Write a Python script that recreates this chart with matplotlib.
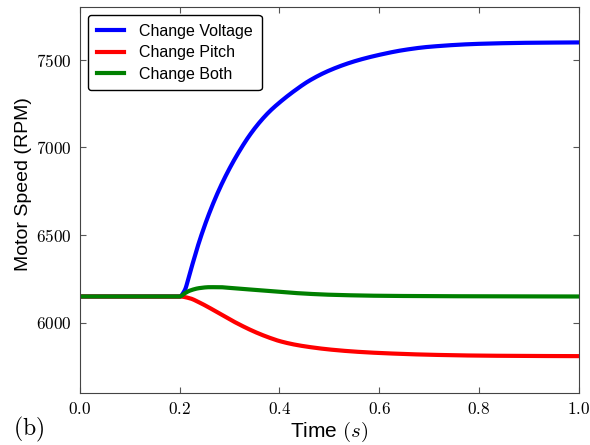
import numpy as np
import matplotlib
matplotlib.use('Agg')
import matplotlib.pyplot as plt
from matplotlib.ticker import FuncFormatter

plt.rcParams['mathtext.fontset'] = 'cm'
plt.rcParams['font.family'] = ['Liberation Sans', 'DejaVu Sans']

# time (s) and motor speed (RPM)
t_voltage = [0.0, 0.20, 0.21, 0.22, 0.24, 0.26, 0.28, 0.30, 0.32, 0.34, 0.36, 0.38,
             0.40, 0.43, 0.46, 0.50, 0.55, 0.60, 0.65, 0.70, 0.80, 0.90, 1.00]
rpm_voltage = [6150, 6150, 6185, 6280, 6470, 6630, 6765, 6880, 6980, 7068, 7142, 7204,
               7255, 7322, 7380, 7438, 7490, 7527, 7555, 7573, 7590, 7596, 7598]

t_pitch = [0.0, 0.20, 0.22, 0.24, 0.26, 0.28, 0.30, 0.32, 0.34, 0.36, 0.38, 0.40,
           0.43, 0.46, 0.50, 0.55, 0.60, 0.70, 0.80, 0.90, 1.00]
rpm_pitch = [6150, 6150, 6140, 6115, 6085, 6052, 6020, 5990, 5962, 5937, 5915, 5896,
             5876, 5862, 5848, 5836, 5828, 5818, 5813, 5811, 5810]

t_both = [0.0, 0.20, 0.21, 0.22, 0.24, 0.26, 0.28, 0.30, 0.34, 0.38, 0.42, 0.46,
          0.50, 0.60, 0.70, 0.80, 1.00]
rpm_both = [6150, 6150, 6168, 6183, 6198, 6203, 6203, 6199, 6190, 6181, 6172, 6165,
            6160, 6154, 6152, 6151, 6150]


def pchip(x, y, n=600):
    # Fritsch-Carlson monotone cubic through the read points
    x = np.asarray(x, float)
    y = np.asarray(y, float)
    h = np.diff(x)
    d = np.diff(y) / h
    m = np.zeros_like(y)
    for k in range(1, len(y) - 1):
        if d[k - 1] * d[k] > 0:
            w1 = 2 * h[k] + h[k - 1]
            w2 = h[k] + 2 * h[k - 1]
            m[k] = (w1 + w2) / (w1 / d[k - 1] + w2 / d[k])
    m[0] = 0.0
    m[-1] = d[-1]
    xs = np.linspace(x[0], x[-1], n)
    idx = np.clip(np.searchsorted(x, xs) - 1, 0, len(h) - 1)
    s = (xs - x[idx]) / h[idx]
    h00 = 2 * s**3 - 3 * s**2 + 1
    h10 = s**3 - 2 * s**2 + s
    h01 = -2 * s**3 + 3 * s**2
    h11 = s**3 - s**2
    ys = h00 * y[idx] + h10 * h[idx] * m[idx] + h01 * y[idx + 1] + h11 * h[idx] * m[idx + 1]
    return xs, ys


fig = plt.figure(figsize=(5.9, 4.45), dpi=100)
ax = fig.add_axes([0.1356, 0.1169, 0.845, 0.8674])

ax.plot(*pchip(t_voltage, rpm_voltage), color='blue', lw=3, label='Change Voltage')
ax.plot(*pchip(t_pitch, rpm_pitch), color='red', lw=3, label='Change Pitch')
ax.plot(*pchip(t_both, rpm_both), color='green', lw=3, label='Change Both')

ax.set_xlim(0, 1.0)
ax.set_ylim(5600, 7800)
ax.set_xticks([0.0, 0.2, 0.4, 0.6, 0.8, 1.0])
ax.set_yticks([6000, 6500, 7000, 7500])
ax.xaxis.set_major_formatter(FuncFormatter(lambda v, p: r'$%.1f$' % v))
ax.yaxis.set_major_formatter(FuncFormatter(lambda v, p: r'$%d$' % v))
ax.tick_params(direction='in', top=True, right=True, labelsize=12.3, length=4,
               color='#555555', pad=6)
for sp in ax.spines.values():
    sp.set_color('#444444')

ax.set_xlabel(r'Time $(s)$', fontsize=15, labelpad=2)
ax.set_ylabel('Motor Speed (RPM)', fontsize=14)
ax.yaxis.set_label_coords(-0.096, 0.54)

leg = ax.legend(loc='upper left', fontsize=11.5, fancybox=True, framealpha=1,
                edgecolor='black', handlelength=1.7, handletextpad=0.95,
                borderpad=0.55, labelspacing=0.4, borderaxespad=0.5)
leg.get_frame().set_linewidth(1.0)

fig.text(0.022, 0.021, r'$\mathrm{(b)}$', fontsize=17)

fig.savefig('out.png', dpi=100)
